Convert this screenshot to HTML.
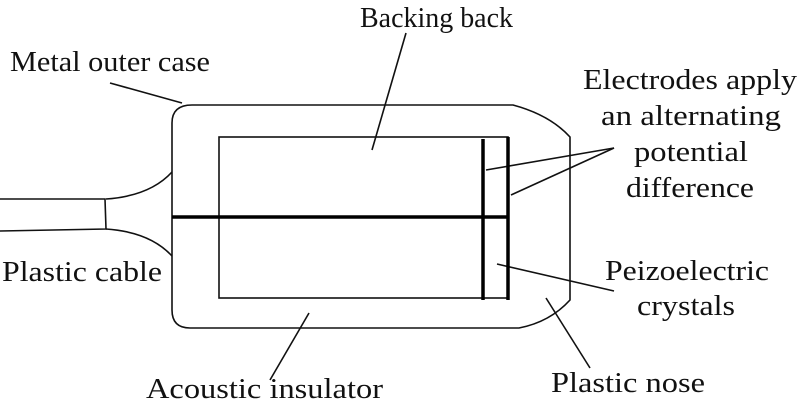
<!DOCTYPE html>
<html><head><meta charset="utf-8"><style>
html,body{margin:0;padding:0;background:#fff;width:800px;height:406px;overflow:hidden}
svg{display:block}
text{font-family:"Liberation Serif","DejaVu Serif",serif;font-size:29px;fill:#111}
</style></head><body>
<svg width="800" height="406" viewBox="0 0 800 406" xmlns="http://www.w3.org/2000/svg">
<g fill="none" stroke="#111" stroke-width="1.6">
<path d="M192,105 L513,105 Q550,115 570,137 L570,300 Q550,322 519,328 L190,328 Q172,328 172,310 L172,123 Q172,105 192,105 Z"/>
<rect x="219" y="137" width="289" height="161"/>
<path d="M0,199 L105,199 L106,229 L0,231"/>
<path d="M106,199 Q150,196 172,172"/>
<path d="M106,229 Q150,232 172,256"/>
<line x1="110" y1="83" x2="182" y2="103"/>
<line x1="406" y1="33" x2="372" y2="150"/>
<line x1="614" y1="148" x2="486" y2="170"/>
<line x1="614" y1="148" x2="511" y2="195"/>
<line x1="497" y1="264" x2="614" y2="291"/>
<line x1="546" y1="298" x2="590" y2="368"/>
<line x1="309" y1="313" x2="270" y2="380"/>
</g>
<g stroke="#000" stroke-width="3.5">
<line x1="172" y1="217" x2="508" y2="217"/>
<line x1="483" y1="139" x2="483" y2="300"/>
<line x1="508" y1="137" x2="508" y2="300"/>
</g>
<text x="360" y="27" textLength="153" lengthAdjust="spacingAndGlyphs">Backing back</text>
<text x="10" y="71" textLength="200" lengthAdjust="spacingAndGlyphs">Metal outer case</text>
<text x="583" y="89" textLength="214" lengthAdjust="spacingAndGlyphs">Electrodes apply</text>
<text x="601" y="125" textLength="180" lengthAdjust="spacingAndGlyphs">an alternating</text>
<text x="634" y="161" textLength="114" lengthAdjust="spacingAndGlyphs">potential</text>
<text x="626" y="197" textLength="128" lengthAdjust="spacingAndGlyphs">difference</text>
<text x="2" y="281" textLength="160" lengthAdjust="spacingAndGlyphs">Plastic cable</text>
<text x="605" y="280" textLength="164" lengthAdjust="spacingAndGlyphs">Peizoelectric</text>
<text x="637" y="315" textLength="98" lengthAdjust="spacingAndGlyphs">crystals</text>
<text x="551" y="392" textLength="154" lengthAdjust="spacingAndGlyphs">Plastic nose</text>
<text x="146" y="398" textLength="237" lengthAdjust="spacingAndGlyphs">Acoustic insulator</text>
</svg>
</body></html>
